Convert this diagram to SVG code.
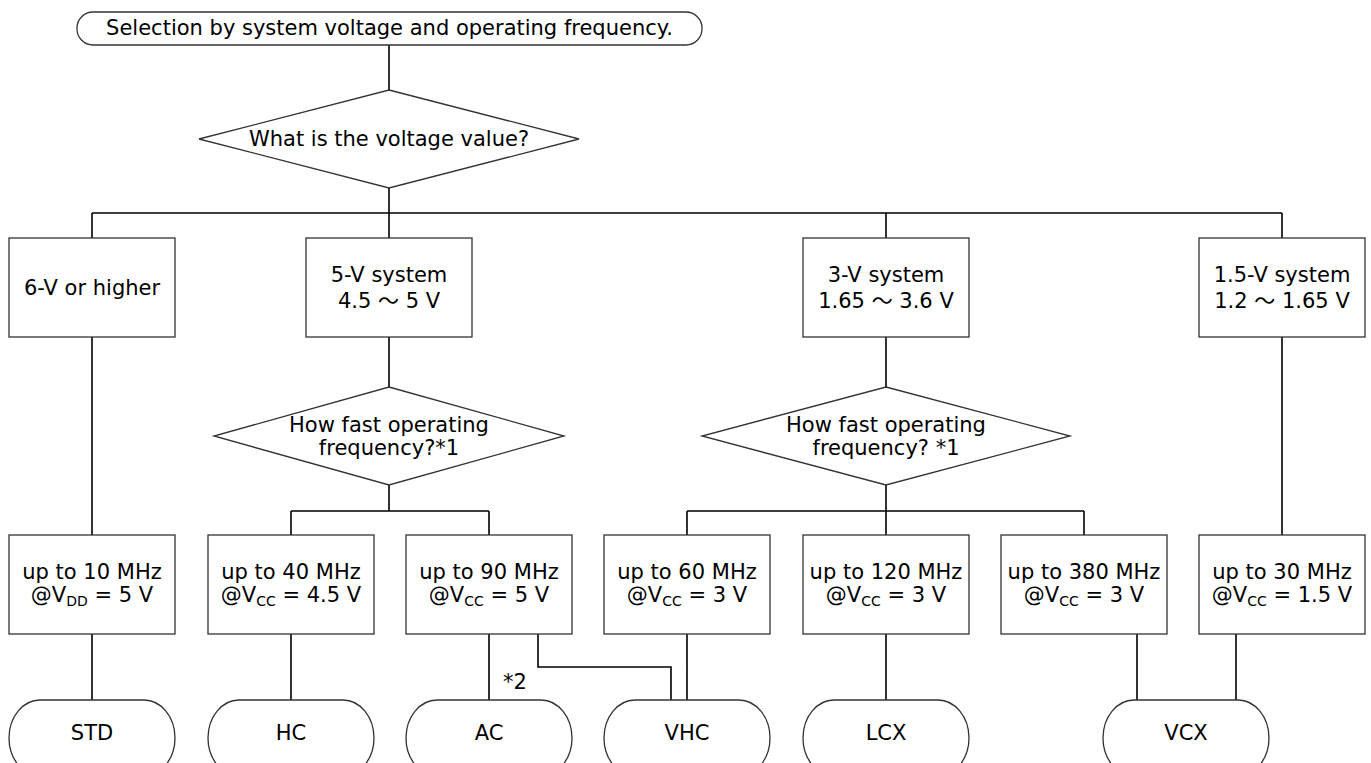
<svg xmlns="http://www.w3.org/2000/svg" width="1371" height="763" viewBox="0 0 1371 763">
<style>
.n{fill:#fff;stroke:#333;stroke-width:1.3}
.c{fill:none;stroke:#000;stroke-width:1.6}
text{font-family:"DejaVu Sans","Noto Sans CJK JP",sans-serif;font-size:21px;fill:#000;text-anchor:middle}
.s{font-size:14px}
</style>
<rect width="1371" height="763" fill="#fff"/>
<g id="connectors">
<path class="c" d="M389,45V90M389,188V213M92,213H1282M92,213V238M389,213V238M886,213V238M1282,213V238"/>
<path class="c" d="M92,337V535M389,337V387M389,485V511M291,511H489M291,511V535M489,511V535"/>
<path class="c" d="M886,337V387M886,485V511M687,511H1084M687,511V535M886,511V535M1084,511V535M1282,337V535"/>
<path class="c" d="M92,634V700M291,634V700M489,634V700M687,634V700M886,634V700M538,634V667H671V700M1137,634V700M1236,634V700"/>
<text x="503" y="689" style="text-anchor:start">*2</text>
</g>
<g id="start"><rect class="n" x="77" y="12" width="625" height="33" rx="16" ry="16"/><text x="389.5" y="35">Selection by system voltage and operating frequency.</text></g>
<g id="q-voltage"><polygon class="n" points="389,90 579,139 389,188 199,139"/><text x="389" y="146">What is the voltage value?</text></g>
<g id="v6"><rect class="n" x="9" y="238" width="166" height="99"/><text x="92" y="295">6-V or higher</text></g>
<g id="v5"><rect class="n" x="306" y="238" width="166" height="99"/><text x="389" y="282">5-V system</text><text x="389" y="308">4.5 ～ 5 V</text></g>
<g id="v3"><rect class="n" x="803" y="238" width="166" height="99"/><text x="886" y="282">3-V system</text><text x="886" y="308">1.65 ～ 3.6 V</text></g>
<g id="v15"><rect class="n" x="1199" y="238" width="166" height="99"/><text x="1282" y="282">1.5-V system</text><text x="1282" y="308">1.2 ～ 1.65 V</text></g>
<g id="q-freq5"><polygon class="n" points="389,387 564,436 389,485 214,436"/><text x="389" y="432">How fast operating</text><text x="389" y="455">frequency?*1</text></g>
<g id="q-freq3"><polygon class="n" points="886,387 1070,436 886,485 702,436"/><text x="886" y="432">How fast operating</text><text x="886" y="455">frequency? *1</text></g>
<g id="f10"><rect class="n" x="9" y="535" width="166" height="99"/><text x="92" y="579">up to 10 MHz</text><text x="92" y="602">@V<tspan class="s" dy="4">DD</tspan><tspan dy="-4"> = 5 V</tspan></text></g>
<g id="f40"><rect class="n" x="208" y="535" width="166" height="99"/><text x="291" y="579">up to 40 MHz</text><text x="291" y="602">@V<tspan class="s" dy="4">CC</tspan><tspan dy="-4"> = 4.5 V</tspan></text></g>
<g id="f90"><rect class="n" x="406" y="535" width="166" height="99"/><text x="489" y="579">up to 90 MHz</text><text x="489" y="602">@V<tspan class="s" dy="4">CC</tspan><tspan dy="-4"> = 5 V</tspan></text></g>
<g id="f60"><rect class="n" x="604" y="535" width="166" height="99"/><text x="687" y="579">up to 60 MHz</text><text x="687" y="602">@V<tspan class="s" dy="4">CC</tspan><tspan dy="-4"> = 3 V</tspan></text></g>
<g id="f120"><rect class="n" x="803" y="535" width="166" height="99"/><text x="886" y="579">up to 120 MHz</text><text x="886" y="602">@V<tspan class="s" dy="4">CC</tspan><tspan dy="-4"> = 3 V</tspan></text></g>
<g id="f380"><rect class="n" x="1001" y="535" width="166" height="99"/><text x="1084" y="579">up to 380 MHz</text><text x="1084" y="602">@V<tspan class="s" dy="4">CC</tspan><tspan dy="-4"> = 3 V</tspan></text></g>
<g id="f30"><rect class="n" x="1199" y="535" width="166" height="99"/><text x="1282" y="579">up to 30 MHz</text><text x="1282" y="602">@V<tspan class="s" dy="4">CC</tspan><tspan dy="-4"> = 1.5 V</tspan></text></g>
<g id="std"><rect class="n" x="9" y="700" width="166" height="76" rx="31" ry="38"/><text x="92" y="740">STD</text></g>
<g id="hc"><rect class="n" x="208" y="700" width="166" height="76" rx="31" ry="38"/><text x="291" y="740">HC</text></g>
<g id="ac"><rect class="n" x="406" y="700" width="166" height="76" rx="31" ry="38"/><text x="489" y="740">AC</text></g>
<g id="vhc"><rect class="n" x="604" y="700" width="166" height="76" rx="31" ry="38"/><text x="687" y="740">VHC</text></g>
<g id="lcx"><rect class="n" x="803" y="700" width="166" height="76" rx="31" ry="38"/><text x="886" y="740">LCX</text></g>
<g id="vcx"><rect class="n" x="1103" y="700" width="166" height="76" rx="31" ry="38"/><text x="1186" y="740">VCX</text></g>
</svg>
